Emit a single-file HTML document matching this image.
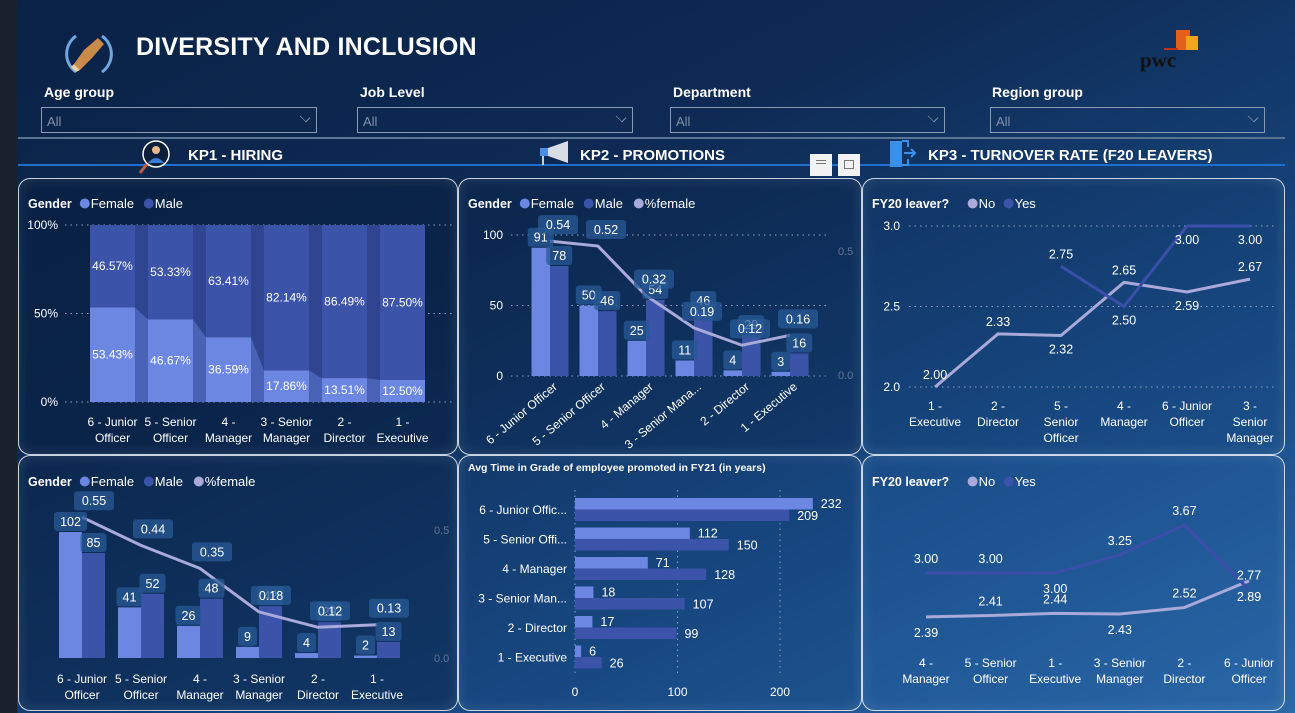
<!DOCTYPE html>
<html><head><meta charset="utf-8">
<style>
*{margin:0;padding:0;box-sizing:border-box}
body{width:1295px;height:713px;overflow:hidden;font-family:"Liberation Sans",sans-serif;color:#fff;
background:linear-gradient(155deg,#0a2145 0%,#0e2b55 35%,#184a85 70%,#2b68a7 100%);position:relative}
.strip{position:absolute;left:0;top:0;width:17px;height:713px;background:#1b212c}
.abs{position:absolute}
.title{left:136px;top:33px;font-size:25px;font-weight:bold;letter-spacing:0.2px}
.sl-label{font-size:14px;font-weight:bold;top:84px}
.sl-box{top:107px;height:26px;border:1.5px solid #8a9ab0;font-size:13px;color:#8190a8;padding:6px 0 0 5px}
.sl-box span.chev{position:absolute;right:6px;top:4px;width:10px;height:10px;border-right:1.3px solid #8a9ab0;border-bottom:1.3px solid #8a9ab0;transform:rotate(45deg) scale(0.9,0.6)}
.kp{top:147px;font-size:15px;font-weight:bold}
.panel{position:absolute;border:1.3px solid rgba(235,240,250,0.85);border-radius:12px;box-shadow:inset 0 0 14px rgba(255,255,255,0.12)}
.btn{position:absolute;top:154px;width:22px;height:22px;background:#f2f2f2}
svg text{font-family:"Liberation Sans",sans-serif}
</style></head>
<body>
<div class="strip"></div>
<svg class="abs" style="left:62px;top:28px" width="54" height="50">
<path d="M14 8 A22 22 0 0 0 14 44" stroke="#6fa8e0" stroke-width="3" fill="none"/>
<path d="M40 8 A22 22 0 0 1 40 44" stroke="#6fa8e0" stroke-width="3" fill="none"/>
<path d="M12 36 L22 22 L36 10 L42 16 L30 30 L18 42 Z" fill="#c98a4a"/>
<path d="M12 36 L18 42 L14 44 L9 39 Z" fill="#f0d0a0"/>
</svg>
<div class="abs title">DIVERSITY AND INCLUSION</div>
<div class="abs" style="left:1140px;top:28px;width:60px;height:46px">
<div class="abs" style="left:36px;top:2px;width:14px;height:20px;background:#e3601a"></div>
<div class="abs" style="left:46px;top:8px;width:12px;height:14px;background:#f2a51c"></div>
<div class="abs" style="left:24px;top:20px;width:14px;height:2px;background:#c0301c"></div>
<div class="abs" style="left:0;top:20px;font-family:'Liberation Serif',serif;font-weight:bold;font-size:21px;color:#111">pwc</div>
</div>

<div class="abs sl-label" style="left:44px">Age group</div>
<div class="abs sl-box" style="left:41px;width:276px">All<span class="chev"></span></div>
<div class="abs sl-label" style="left:360px">Job Level</div>
<div class="abs sl-box" style="left:357px;width:276px">All<span class="chev"></span></div>
<div class="abs sl-label" style="left:673px">Department</div>
<div class="abs sl-box" style="left:670px;width:275px">All<span class="chev"></span></div>
<div class="abs sl-label" style="left:992px">Region group</div>
<div class="abs sl-box" style="left:990px;width:275px">All<span class="chev"></span></div>

<div class="abs" style="left:18px;top:137px;width:1267px;height:2px;background:#5a7494"></div>
<div class="abs" style="left:18px;top:164px;width:1267px;height:2px;background:#1f6fd0"></div>

<svg class="abs" style="left:138px;top:139px" width="36" height="38">
<circle cx="18" cy="15" r="13" fill="#0b1e3a" stroke="#fff" stroke-width="1.5"/><circle cx="18" cy="11" r="4" fill="#e8b88a"/><path d="M10 24 Q18 14 26 24 Z" fill="#3a7bd5"/><line x1="9" y1="25" x2="2" y2="34" stroke="#c06040" stroke-width="3"/></svg>
<div class="abs kp" style="left:188px">KP1 - HIRING</div>
<svg class="abs" style="left:538px;top:139px" width="34" height="28">
<rect x="2" y="9" width="8" height="8" fill="#4a8fe0"/><path d="M10 9 L30 2 L30 24 L10 17 Z" fill="#d8dce4"/><line x1="5" y1="17" x2="5" y2="26" stroke="#ccc" stroke-width="2"/></svg>
<div class="abs kp" style="left:580px">KP2 - PROMOTIONS</div>
<svg class="abs" style="left:888px;top:139px" width="30" height="30">
<rect x="2" y="2" width="12" height="26" fill="#3a8fe8"/><path d="M14 2 L20 2 L20 8 M20 20 L20 26 L14 26" stroke="#3a8fe8" stroke-width="2" fill="none"/><path d="M16 14 L27 14 M23 10 L27 14 L23 18" stroke="#3a8fe8" stroke-width="2" fill="none"/></svg>
<div class="abs kp" style="left:928px">KP3 - TURNOVER RATE (F20 LEAVERS)</div>
<div class="btn" style="left:810px"><div class="abs" style="left:6px;top:6px;width:10px;height:1px;background:#777"></div><div class="abs" style="left:6px;top:9px;width:10px;height:1px;background:#777"></div></div>
<div class="btn" style="left:838px"><div class="abs" style="left:6px;top:6px;width:10px;height:9px;border:1px solid #777"></div></div>

<div class="panel" style="left:18px;top:178px;width:440px;height:277px;background:rgba(8,30,62,0.55)"></div>
<div class="panel" style="left:458px;top:178px;width:404px;height:277px;background:rgba(10,34,68,0.35)"></div>
<div class="panel" style="left:862px;top:178px;width:423px;height:277px;background:rgba(20,60,110,0.15)"></div>
<div class="panel" style="left:18px;top:455px;width:440px;height:256px;background:rgba(10,36,72,0.5)"></div>
<div class="panel" style="left:458px;top:455px;width:404px;height:256px;background:rgba(20,60,110,0.2)"></div>
<div class="panel" style="left:862px;top:455px;width:423px;height:256px;background:rgba(40,100,170,0.2)"></div>

<svg id="charts" class="abs" style="left:0;top:0" width="1295" height="713"></svg>

<script>
const hireCats = ["6 - Junior|Officer","5 - Senior|Officer","4 -|Manager","3 - Senior|Manager","2 -|Director","1 -|Executive"];
const hireFemalePct = [53.43,46.67,36.59,17.86,13.51,12.50];
const hireMalePct = [46.57,53.33,63.41,82.14,86.49,87.50];
const pctTicks = [0,50,100];

const promoCats = ["6 - Junior Officer","5 - Senior Officer","4 - Manager","3 - Senior Mana...","2 - Director","1 - Executive"];
const promoFemale = [91,50,25,11,4,3];
const promoMale = [78,46,54,46,29,16];
const promoPct = [0.54,0.52,0.32,0.19,0.12,0.16];
const promoTicks = [0,50,100];
const ratioTicks = [0,0.5];

const hireCountCats = ["6 - Junior|Officer","5 - Senior|Officer","4 -|Manager","3 - Senior|Manager","2 -|Director","1 -|Executive"];
const hireFemale = [102,41,26,9,4,2];
const hireMale = [85,52,48,42,29,13];
const hirePct = [0.55,0.44,0.35,0.18,0.12,0.13];

const gradeCats = ["6 - Junior Offic...","5 - Senior Offi...","4 - Manager","3 - Senior Man...","2 - Director","1 - Executive"];
const gradeFemale = [232,112,71,18,17,6];
const gradeMale = [209,150,128,107,99,26];
const gradeTicks = [0,100,200];

const turnCats1 = ["1 -|Executive","2 -|Director","5 -|Senior|Officer","4 -|Manager","6 - Junior|Officer","3 -|Senior|Manager"];
const turnNo1 = [2.00,2.33,2.32,2.65,2.59,2.67];
const turnYes1 = [null,null,2.75,2.50,3.00,3.00];
const turnTicks = [2.0,2.5,3.0];

const turnCats2 = ["4 -|Manager","5 - Senior|Officer","1 -|Executive","3 - Senior|Manager","2 -|Director","6 - Junior|Officer"];
const turnNo2 = [2.39,2.41,2.44,2.43,2.52,2.89];
const turnYes2 = [3.00,3.00,3.00,3.25,3.67,2.77];

const FEM="#6b87e2", MAL="#3b53a9", PCT="#a9a9da", LBLBG="rgba(40,90,150,0.75)";
const NS="http://www.w3.org/2000/svg";
const svg=document.getElementById('charts');
function mk(tag,attrs,parent){const e=document.createElementNS(NS,tag);for(const k in attrs)e.setAttribute(k,attrs[k]);(parent||svg).appendChild(e);return e;}
function txt(x,y,s,size,anchor,fill,weight){const t=mk('text',{x:x,y:y,'font-size':size||12,'text-anchor':anchor||'middle',fill:fill||'#fff','font-weight':weight||'normal'});t.textContent=s;return t;}
function multiline(x,y,s,size,lh){const parts=s.split('|');const g=mk('g',{});parts.forEach((p,i)=>{const t=mk('text',{x:x,y:y+i*lh,'font-size':size,'text-anchor':'middle',fill:'#fff'},g);t.textContent=p;});return g;}
function boxLabel(x,y,s){const w=s.length*7+12;const r=mk('rect',{x:x-w/2,y:y-14,width:w,height:19,rx:3,fill:LBLBG});

const t=txt(x,y,s,12.5);
}
function legend(x,y,title,items){const t=txt(x,y,title,12.5,'start','#fff','bold');

let cx=x+title.length*7.3+8;items.forEach(it=>{const c=mk('circle',{cx:cx+5,cy:y-4.5,r:5,fill:it[1]});

const l=txt(cx+11,y,it[0],13,'start');

cx+=it[0].length*7+22;});}
function grid(x1,x2,y){const l=mk('line',{x1:x1,x2:x2,y1:y,y2:y,stroke:'#8fa3c0','stroke-width':1,'stroke-dasharray':'1.5 4'});
}

/* ---- Panel 1: 100% stacked ---- */
(function(){
 const y=v=>402-v*1.77, bx=i=>90+i*58, bw=45;
 legend(28,208,'Gender',[['Female',FEM],['Male',MAL]]);
 pctTicks.forEach(t=>{grid(65,455,y(t));const l=txt(58,y(t)+4,t+'%',12,'end');
 });
 for(let i=0;i<hireCats.length-1;i++){
  const x1=bx(i)+bw,x2=bx(i+1);
  const rm=mk('polygon',{points:`${x1},${y(100)} ${x2},${y(100)} ${x2},${y(hireFemalePct[i+1])} ${x1},${y(hireFemalePct[i])}`,fill:'#2f4590'});
  
  
  const rf=mk('polygon',{points:`${x1},${y(hireFemalePct[i])} ${x2},${y(hireFemalePct[i+1])} ${x2},${y(0)} ${x1},${y(0)}`,fill:'#4a62b6'});
  
  
 }
 hireCats.forEach((c,i)=>{
  const f=hireFemalePct[i],m=hireMalePct[i];
  const rm=mk('rect',{x:bx(i),y:y(100),width:bw,height:y(f)-y(100),fill:MAL});
  
  
  const rf=mk('rect',{x:bx(i),y:y(f),width:bw,height:y(0)-y(f),fill:FEM});
  
  
  const lm=txt(bx(i)+bw/2,(y(100)+y(f))/2+4,m.toFixed(2)+'%',12);
  
  const lf=txt(bx(i)+bw/2,(y(f)+y(0))/2+4,f.toFixed(2)+'%',12);
  
  const xl=multiline(bx(i)+bw/2,426,c,12,16);
  
 });
})();

/* ---- Panel 2: promotions combo ---- */
(function(){
 const y=v=>376-v*1.41, yr=v=>375-v*248, cx=i=>550+i*48, bw=18.5;
 legend(468,208,'Gender',[['Female',FEM],['Male',MAL],['%female',PCT]]);
 promoTicks.forEach(t=>{grid(511,828,y(t));const l=txt(503,y(t)+4,t,12,'end');
 });
 ratioTicks.forEach(t=>{const l=txt(838,yr(t)+4,t.toFixed(1),11,'start','#5f7596');
 });
 promoCats.forEach((c,i)=>{
  const rf=mk('rect',{x:cx(i)-bw,y:y(promoFemale[i]),width:bw,height:y(0)-y(promoFemale[i]),fill:FEM});
  
  
  const rm=mk('rect',{x:cx(i),y:y(promoMale[i]),width:bw,height:y(0)-y(promoMale[i]),fill:MAL});
  
  
  const t=mk('text',{x:cx(i)+8,y:388,'font-size':12,'text-anchor':'end',fill:'#fff',transform:`rotate(-40 ${cx(i)+8} 388)`});t.textContent=c;
  
  
 });
 const pts=promoPct.map((v,i)=>`${cx(i)},${yr(v)}`).join(' ');
 const pl=mk('polyline',{points:pts,fill:'none',stroke:PCT,'stroke-width':3});
 
 
 promoCats.forEach((c,i)=>{
  boxLabel(cx(i)-bw/2,y(promoFemale[i])-6,String(promoFemale[i]));
  boxLabel(cx(i)+bw/2,y(promoMale[i])-6,String(promoMale[i]));
  boxLabel(cx(i)+8,yr(promoPct[i])-12,promoPct[i].toFixed(2));
 });
})();

/* ---- Panel 4: hiring counts combo ---- */
(function(){
 const y=v=>658-v*1.235, yr=v=>658-v*256, cx=i=>82+i*59, bw=23;
 legend(28,486,'Gender',[['Female',FEM],['Male',MAL],['%female',PCT]]);
 ratioTicks.forEach(t=>{const l=txt(434,yr(t)+4,t.toFixed(1),11,'start','#5f7596');
 });
 hireCountCats.forEach((c,i)=>{
  const rf=mk('rect',{x:cx(i)-bw,y:y(hireFemale[i]),width:bw,height:y(0)-y(hireFemale[i]),fill:FEM});
  
  
  const rm=mk('rect',{x:cx(i),y:y(hireMale[i]),width:bw,height:y(0)-y(hireMale[i]),fill:MAL});
  
  
  const xl=multiline(cx(i),683,c,12,16);
  
 });
 const pl=mk('polyline',{points:hirePct.map((v,i)=>`${cx(i)},${yr(v)}`).join(' '),fill:'none',stroke:PCT,'stroke-width':3});
 
 
 hireCountCats.forEach((c,i)=>{
  boxLabel(cx(i)-bw/2,y(hireFemale[i])-6,String(hireFemale[i]));
  boxLabel(cx(i)+bw/2,y(hireMale[i])-6,String(hireMale[i]));
  boxLabel(cx(i)+12,yr(hirePct[i])-12,hirePct[i].toFixed(2));
 });
})();

/* ---- Panel 5: horizontal bars ---- */
(function(){
 const x=v=>575+v*1.025, ry=i=>498+i*29.5, bh=11.5;
 const tt=txt(468,471,'Avg Time in Grade of employee promoted in FY21 (in years)',10.5,'start','#fff','bold');
 
 
 gradeTicks.forEach(t=>{const l=mk('line',{x1:x(t),x2:x(t),y1:490,y2:676,stroke:'#8fa3c0','stroke-dasharray':'1.5 4'});
 
 const tl=txt(x(t),696,t,12);
 });
 gradeCats.forEach((c,i)=>{
  const rf=mk('rect',{x:x(0),y:ry(i),width:x(gradeFemale[i])-x(0),height:bh,fill:FEM});
  
  
  const rm=mk('rect',{x:x(0),y:ry(i)+bh,width:x(gradeMale[i])-x(0),height:bh,fill:MAL});
  
  
  const lf=txt(x(gradeFemale[i])+8,ry(i)+10,String(gradeFemale[i]),12.5,'start');
  
  const lm=txt(x(gradeMale[i])+8,ry(i)+22,String(gradeMale[i]),12.5,'start');
  
  const cl=txt(567,ry(i)+16,c,12,'end');
  
 });
})();

/* ---- Panel 3: turnover top ---- */
const labelPosNo1=[-1,-1,1,-1,1,-1], labelPosYes1=[0,0,-1,1,1,1];
(function(){
 const y=v=>387-(v-2)*161, cx=i=>935+i*63;
 legend(872,208,'FY20 leaver?',[['No',PCT],['Yes',MAL]]);
 turnTicks.forEach(t=>{grid(909,1275,y(t));const l=txt(900,y(t)+4,t.toFixed(1),12,'end');
 });
 const noPts=turnNo1.map((v,i)=>`${cx(i)},${y(v)}`).join(' ');
 const n=mk('polyline',{points:noPts,fill:'none',stroke:PCT,'stroke-width':3});
 
 
 const yesPts=turnYes1.map((v,i)=>v==null?null:`${cx(i)},${y(v)}`).filter(p=>p).join(' ');
 const ys=mk('polyline',{points:yesPts,fill:'none',stroke:'#3a4eaa','stroke-width':3});
 
 
 turnCats1.forEach((c,i)=>{
  const xl=multiline(cx(i),410,c,12,16);
  
  const v=turnNo1[i];const l=txt(cx(i),y(v)+(labelPosNo1[i]<0?-8:18),v.toFixed(2),12.5);
  
  if(turnYes1[i]!=null){const w=turnYes1[i];const l2=txt(cx(i),y(w)+(labelPosYes1[i]<0?-8:18),w.toFixed(2),12.5);
  }
 });
})();

/* ---- Panel 6: turnover bottom ---- */
const labelPosNo2=[1,-1,-1,1,-1,1], labelPosYes2=[-1,-1,1,-1,-1,-1];
(function(){
 const y=v=>573-(v-3)*72, cx=i=>926+i*64.6;
 legend(872,486,'FY20 leaver?',[['No',PCT],['Yes',MAL]]);
 const n=mk('polyline',{points:turnNo2.map((v,i)=>`${cx(i)},${y(v)}`).join(' '),fill:'none',stroke:PCT,'stroke-width':3});
 
 
 const ys=mk('polyline',{points:turnYes2.map((v,i)=>`${cx(i)},${y(v)}`).join(' '),fill:'none',stroke:'#3a4eaa','stroke-width':3});
 
 
 turnCats2.forEach((c,i)=>{
  const xl=multiline(cx(i),667,c,12,16);
  
  const v=turnNo2[i];const l=txt(cx(i),y(v)+(labelPosNo2[i]<0?-10:20),v.toFixed(2),12.5);
  
  const w=turnYes2[i];const l2=txt(cx(i),y(w)+(labelPosYes2[i]<0?-10:20),w.toFixed(2),12.5);
  
 });
})();
</script>
</body></html>
